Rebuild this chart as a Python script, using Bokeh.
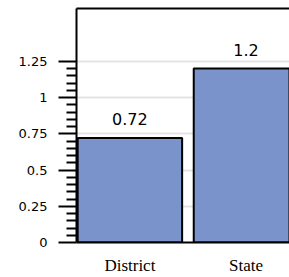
import numpy as np
from bokeh.plotting import figure
from bokeh.models import Range1d, FixedTicker, LinearAxis, ColumnDataSource
from bokeh.embed import file_html
from bokeh.resources import INLINE

categories = ["District", "State"]
values = [0.72, 1.2]
value_labels = ["0.72", "1.2"]
y_ticks = [0, 0.25, 0.5, 0.75, 1.0, 1.25]
y_tick_labels = ["0", "0.25", "0.5", "0.75", "1", "1.25"]

xs = list(range(len(categories)))
src = ColumnDataSource(dict(x=xs, top=values, lab=value_labels))

p = figure(width=289, height=277, output_backend="svg", toolbar_location=None,
           x_range=Range1d(-0.46, 1.375), y_range=Range1d(0, 1.614),
           min_border_left=76, min_border_right=0, min_border_top=8, min_border_bottom=34,
           x_axis_location=None, y_axis_location=None)
p.outline_line_color = None
p.background_fill_color = "white"

# grid
p.xgrid.visible = False
p.ygrid.ticker = FixedTicker(ticks=y_ticks)
p.ygrid.grid_line_color = "#e4e4e4"
p.ygrid.grid_line_width = 2

p.vbar(x="x", top="top", width=0.9, bottom=0, source=src,
       fill_color="#7a94cb", line_color="black", line_width=2)

p.text(x="x", y="top", text="lab", source=src, text_align="center",
       text_baseline="bottom", y_offset=-13, text_font_size="16px",
       text_font={"value": "DejaVu Sans"}, text_color="black")

# y axis
minor = [round(v, 2) for v in np.arange(0, 1.2501, 0.05) if round(v, 2) not in y_ticks]
ya = LinearAxis(ticker=FixedTicker(ticks=y_ticks, minor_ticks=minor))
ya.major_label_overrides = {t: l for t, l in zip(y_ticks, y_tick_labels)}
ya.major_tick_out = 18
ya.major_tick_in = 0
ya.minor_tick_out = 10
ya.minor_tick_in = 0
ya.major_tick_line_width = 2
ya.minor_tick_line_width = 2
ya.axis_line_width = 2
ya.axis_line_color = "black"
ya.major_label_standoff = 11
ya.major_label_text_font = "DejaVu Sans"
ya.major_label_text_font_size = "13px"
ya.major_label_text_color = "black"
p.add_layout(ya, "left")

# x axis
xa = LinearAxis(ticker=FixedTicker(ticks=xs))
xa.major_label_overrides = {i: c for i, c in enumerate(categories)}
xa.major_tick_out = 0
xa.major_tick_in = 0
xa.minor_tick_line_color = None
xa.axis_line_width = 2
xa.axis_line_color = "black"
xa.major_label_standoff = 13
xa.major_label_text_font = "Liberation Serif"
xa.major_label_text_font_size = "17px"
xa.major_label_text_color = "black"
p.add_layout(xa, "below")

# top frame line
ta = LinearAxis(ticker=FixedTicker(ticks=[]))
ta.major_tick_out = 0
ta.major_tick_in = 0
ta.minor_tick_line_color = None
ta.major_label_standoff = 0
ta.major_label_text_font_size = "0px"
ta.axis_line_width = 2
ta.axis_line_color = "black"
p.add_layout(ta, "above")

open("out.html", "w").write(file_html(p, INLINE))
